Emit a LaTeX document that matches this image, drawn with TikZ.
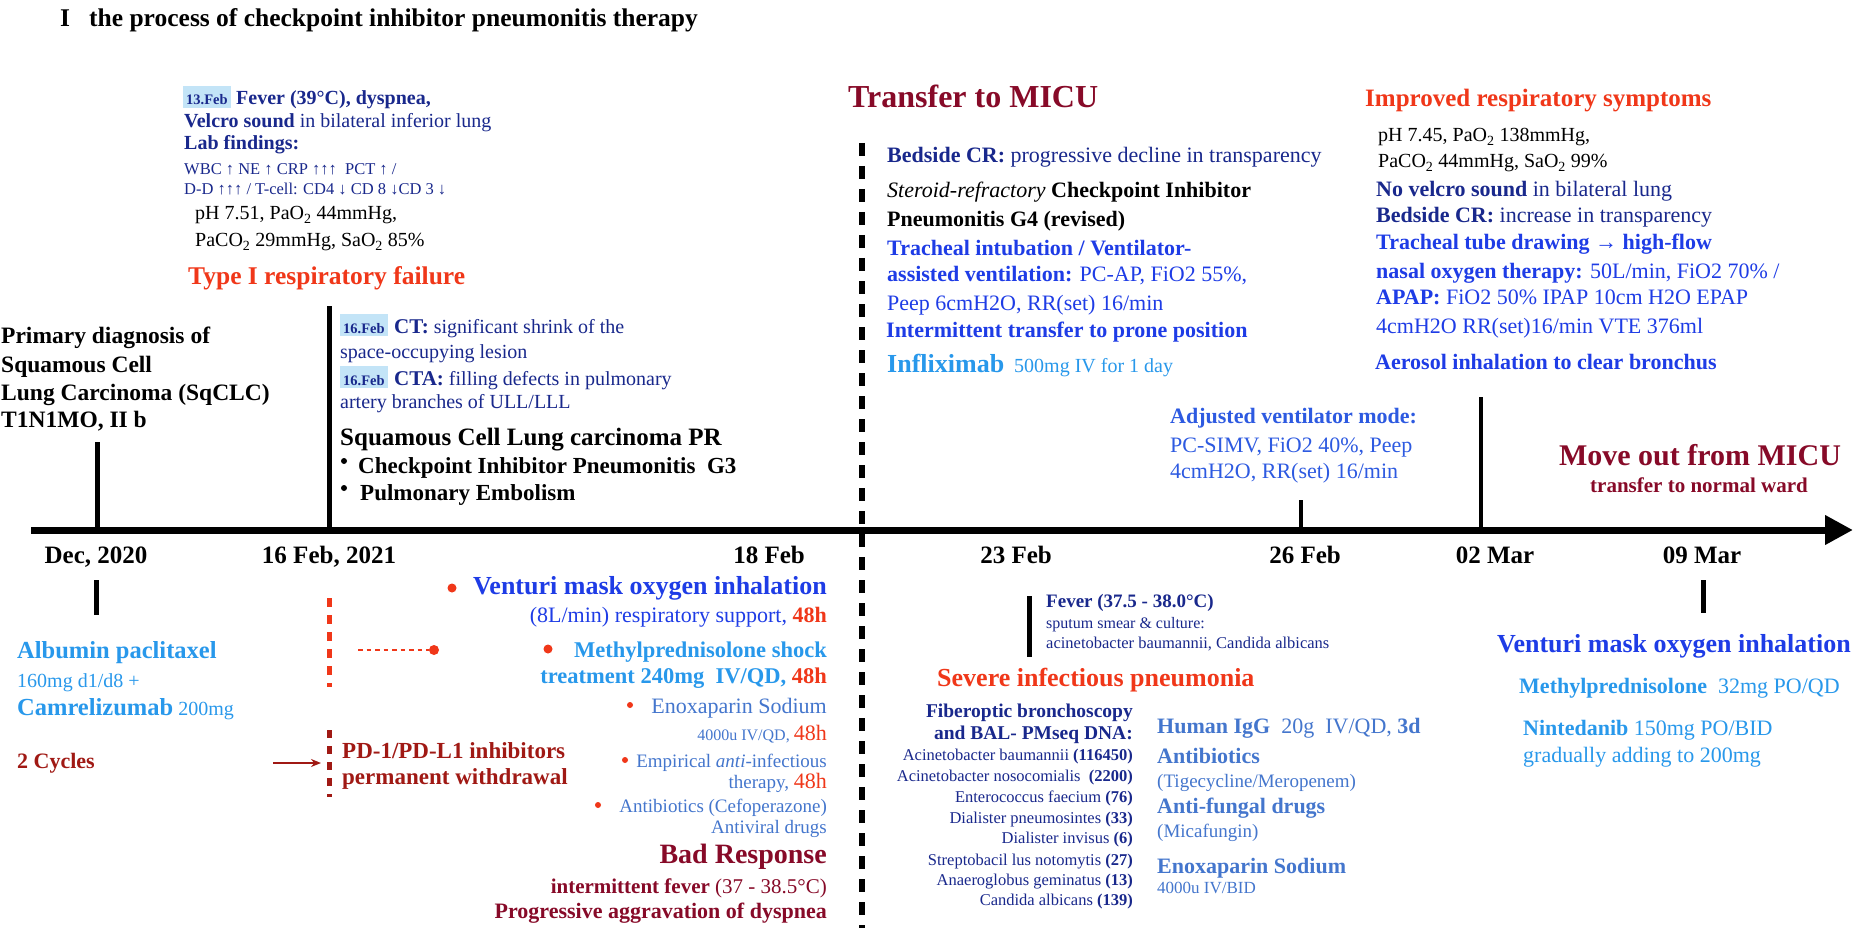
\documentclass[tikz,border=0pt]{standalone}
\usepackage{fontspec}
\setmainfont{Liberation Serif}
\usetikzlibrary{arrows.meta}
\newcommand\fs[1]{\fontsize{#1}{#1}\selectfont}
\definecolor{navy}{RGB}{25,40,140}
\definecolor{vblue}{RGB}{30,60,230}
\definecolor{lblue}{RGB}{40,152,235}
\definecolor{mblue}{RGB}{68,118,205}
\definecolor{ablue}{RGB}{45,90,225}
\definecolor{redo}{RGB}{240,55,25}
\definecolor{dred}{RGB}{135,10,40}
\definecolor{bred}{RGB}{160,25,20}
\definecolor{hl}{RGB}{195,228,247}
\tikzset{
  tx/.style={inner sep=0pt, anchor=base west},
  tr/.style={inner sep=0pt, anchor=base east},
  tc/.style={inner sep=0pt, anchor=base},
  hlbox/.style={fill=hl, inner xsep=3pt, inner ysep=0pt, anchor=base west, text height=19pt, text depth=3pt, font={\fs{14.5}\bfseries}, text=navy},
  datelab/.style={inner sep=0pt, anchor=base, font={\fs{25}\bfseries}},
  tickline/.style={line width=5pt},
  thintick/.style={line width=4pt},
  rdot/.style={circle, fill=redo, inner sep=0pt, minimum size=#1},
  kdot/.style={circle, fill=black, inner sep=0pt, minimum size=6pt},
}
\begin{document}
\begin{tikzpicture}[x=1pt,y=-1pt]
\fill[white] (0,0) rectangle (1856,928);
\useasboundingbox (0,0) rectangle (1856,928);

% ---------- title
\node[tx,font={\fs{25.5}\bfseries}] (tI) at (60,27) {I};
\node[tx,font={\fs{25.5}\bfseries}] (title) at (89,27) {the process of checkpoint inhibitor pneumonitis therapy};

% ---------- 13 Feb block
\node[hlbox] (d13) at (183,105) {13.Feb};
\node[tx,font={\fs{20}\bfseries},text=navy] (fev) at (236,105) {Fever (39°C), dyspnea,};
\node[tx,font={\fs{20}},text=navy] (velc) at (184,128) {\textbf{Velcro sound} in bilateral inferior lung};
\node[tx,font={\fs{20}\bfseries},text=navy] (lab) at (184,150) {Lab findings:};
\node[tx,font={\fs{16.5}},text=navy] (wbc) at (184,175) {WBC ↑ NE ↑ CRP ↑↑↑ \ PCT ↑ /};
\node[tx,font={\fs{16.5}},text=navy] (dd) at (184,195) {D-D ↑↑↑ / T-cell: CD4 ↓ CD 8 ↓CD 3 ↓};
\node[tx,font={\fs{20}}] (ph1) at (195,220) {pH 7.51, PaO\textsubscript{2} 44mmHg,};
\node[tx,font={\fs{20}}] (ph2) at (195,247) {PaCO\textsubscript{2} 29mmHg, SaO\textsubscript{2} 85\%};
\node[tx,font={\fs{25.5}\bfseries},text=redo] (t1f) at (188,284) {Type I respiratory failure};

% ---------- primary diagnosis
\node[tx,font={\fs{23.5}\bfseries}] (pd1) at (1,343) {Primary diagnosis of};
\node[tx,font={\fs{23.5}\bfseries}] (pd2) at (1,372) {Squamous Cell};
\node[tx,font={\fs{23.5}\bfseries}] (pd3) at (1,400) {Lung Carcinoma (SqCLC)};
\node[tx,font={\fs{23.5}\bfseries}] (pd4) at (1,427) {T1N1MO, II b};

% ---------- 16 Feb block
\node[hlbox] (d16a) at (340,333) {16.Feb};
\node[tx,font={\fs{20}},text=navy] (ct) at (394,333) {{\fs{21}\bfseries CT:} significant shrink of the};
\node[tx,font={\fs{20}},text=navy] (ct2) at (340,358) {space-occupying lesion};
\node[hlbox] (d16b) at (340,385) {16.Feb};
\node[tx,font={\fs{20}},text=navy] (cta) at (394,385) {{\fs{21}\bfseries CTA:} filling defects in pulmonary};
\node[tx,font={\fs{20}},text=navy] (cta2) at (340,408) {artery branches of ULL/LLL};
\node[tx,font={\fs{25}\bfseries}] (scl) at (340,445) {Squamous Cell Lung carcinoma PR};
\node[kdot] (b1) at (344,461) {};
\node[tx,font={\fs{23}\bfseries}] (cip) at (358,473) {Checkpoint Inhibitor Pneumonitis \ G3};
\node[kdot] (b2) at (344,488) {};
\node[tx,font={\fs{23}\bfseries}] (pe) at (360,500) {Pulmonary Embolism};

% ---------- Transfer to MICU
\node[tx,font={\fs{32}\bfseries},text=dred] (tmicu) at (848,108) {Transfer to MICU};
\coordinate (dA) at (862,143);
\coordinate (dB) at (862,928);
\draw[line width=6pt, dash pattern=on 13pt off 10pt] (dA) -- (dB);
\node[tx,font={\fs{22}},text=navy] (bcr) at (887,163) {\textbf{Bedside CR:} progressive decline in transparency};
\node[tx,font={\fs{22}}] (sr1) at (887,198) {\textit{Steroid-refractory} \textbf{Checkpoint Inhibitor}};
\node[tx,font={\fs{22}\bfseries}] (sr2) at (887,227) {Pneumonitis G4 (revised)};
\node[tx,font={\fs{22}\bfseries},text=vblue] (ti1) at (887,255) {Tracheal intubation / Ventilator-};
\node[tx,font={\fs{22}},text=vblue] (ti2) at (887,282) {\textbf{assisted ventilation:} PC-AP, FiO2 55\%,};
\node[tx,font={\fs{22}},text=vblue] (ti3) at (887,310) {Peep 6cmH2O, RR(set) 16/min};
\node[tx,font={\fs{22}\bfseries},text=vblue] (ti4) at (886,337) {Intermittent transfer to prone position};
\node[tx,font={\fs{20}},text=lblue] (inf) at (887,372) {{\fs{26}\bfseries Infliximab} \ 500mg IV for 1 day};

% ---------- Improved block
\node[tx,font={\fs{25}\bfseries},text=redo] (imp) at (1365,107) {Improved respiratory symptoms};
\node[tx,font={\fs{20}}] (ip1) at (1378,142) {pH 7.45, PaO\textsubscript{2} 138mmHg,};
\node[tx,font={\fs{20}}] (ip2) at (1378,168) {PaCO\textsubscript{2} 44mmHg, SaO\textsubscript{2} 99\%};
\node[tx,font={\fs{22}},text=navy] (nv) at (1376,197) {\textbf{No velcro sound} in bilateral lung};
\node[tx,font={\fs{22}},text=navy] (bcr2) at (1376,223) {\textbf{Bedside CR:} increase in transparency};
\node[tx,font={\fs{22}\bfseries},text=vblue] (tt1) at (1376,250) {Tracheal tube drawing → high-flow};
\node[tx,font={\fs{22}},text=vblue] (tt2) at (1376,278) {\textbf{nasal oxygen therapy:} 50L/min, FiO2 70\% /};
\node[tx,font={\fs{22}},text=vblue] (tt3) at (1376,305) {\textbf{APAP:} FiO2 50\% IPAP 10cm H2O EPAP};
\node[tx,font={\fs{22}},text=vblue] (tt4) at (1376,333) {4cmH2O RR(set)16/min VTE 376ml};
\node[tx,font={\fs{22}\bfseries},text=vblue] (aer) at (1375,369) {Aerosol inhalation to clear bronchus};

% ---------- Adjusted ventilator
\node[tx,font={\fs{22}\bfseries},text=ablue] (adj1) at (1170,423) {Adjusted ventilator mode:};
\node[tx,font={\fs{22}},text=ablue] (adj2) at (1170,452) {PC-SIMV, FiO2 40\%, Peep};
\node[tx,font={\fs{22}},text=ablue] (adj3) at (1170,478) {4cmH2O, RR(set) 16/min};

% ---------- Move out
\node[tc,font={\fs{30}\bfseries},text=dred] (mo) at (1700,465) {Move out from MICU};
\node[tc,font={\fs{21}\bfseries},text=dred] (mo2) at (1699,492) {transfer to normal ward};

% ---------- axis and ticks
\coordinate (axL) at (31,530);
\coordinate (axR) at (1853,530);
\draw[line width=7pt, -{Triangle[length=28pt,width=28pt]}] (axL) -- (axR);
\coordinate (tDecA) at (97,442);  \coordinate (tDecB) at (97,530);
\coordinate (tFebA) at (329,306); \coordinate (tFebB) at (329,530);
\coordinate (t26A) at (1301,500); \coordinate (t26B) at (1301,530);
\coordinate (t02A) at (1481,397); \coordinate (t02B) at (1481,530);
\draw[tickline] (tDecA) -- (tDecB);
\draw[tickline] (tFebA) -- (tFebB);
\draw[thintick] (t26A) -- (t26B);
\draw[thintick] (t02A) -- (t02B);

% ---------- dates
\node[datelab] (lDec) at (96,563) {Dec, 2020};
\node[datelab] (lFeb) at (329,563) {16 Feb, 2021};
\node[datelab,anchor=base east] (l18) at (805,563) {18 Feb};
\node[datelab] (l23) at (1016,563) {23 Feb};
\node[datelab] (l26) at (1305,563) {26 Feb};
\node[datelab] (l02) at (1495,563) {02 Mar};
\node[datelab] (l09) at (1702,563) {09 Mar};

% ---------- ticks below
\coordinate (bDecA) at (96,580); \coordinate (bDecB) at (96,615);
\coordinate (b09A) at (1703,580); \coordinate (b09B) at (1703,613);
\coordinate (b23A) at (1029,596); \coordinate (b23B) at (1029,657);
\draw[tickline] (bDecA) -- (bDecB);
\draw[tickline] (b09A) -- (b09B);
\draw[tickline] (b23A) -- (b23B);

% ---------- Dec 2020 treatment
\node[tx,font={\fs{24.5}\bfseries},text=lblue] (alb) at (17,658) {Albumin paclitaxel};
\node[tx,font={\fs{20}},text=lblue] (alb2) at (17,687) {160mg d1/d8 +};
\node[tx,font={\fs{20}},text=lblue] (cam) at (17,715) {{\fs{24.5}\bfseries Camrelizumab} 200mg};
\node[tx,font={\fs{22}\bfseries},text=bred] (cyc) at (17,768) {2 Cycles};
\coordinate (cyA) at (273,763);
\coordinate (cyB) at (321,763);
\draw[bred, line width=1.6pt, -{Stealth[length=10pt,width=8pt]}] (cyA) -- (cyB);

% ---------- red dashed markers
\coordinate (rdA) at (329,598); \coordinate (rdB) at (329,687);
\draw[redo, line width=5pt, dash pattern=on 9pt off 8pt] (rdA) -- (rdB);
\coordinate (rhA) at (358,650);
\node[rdot=10pt] (rhdot) at (434,650) {};
\draw[redo, line width=2.2pt, dash pattern=on 4.5pt off 4pt] (rhA) -- (rhdot);
\coordinate (pdA) at (329,730); \coordinate (pdB) at (329,797);
\draw[bred, line width=5pt, dash pattern=on 8pt off 8pt] (pdA) -- (pdB);
\node[tx,font={\fs{23}\bfseries},text=bred] (pd1x) at (342,758) {PD-1/PD-L1 inhibitors};
\node[tx,font={\fs{23}\bfseries},text=bred] (pd2x) at (342,784) {permanent withdrawal};

% ---------- 18 Feb treatment
\node[rdot=9pt] (bv) at (452,588) {};
\node[tr,font={\fs{26}\bfseries},text=vblue] (ven) at (827,594) {Venturi mask oxygen inhalation};
\node[tr,font={\fs{22}},text=vblue] (ven2) at (827,622) {(8L/min) respiratory support, \textcolor{redo}{\textbf{48h}}};
\node[rdot=9pt] (bm) at (548,649) {};
\node[tr,font={\fs{22.5}\bfseries},text=lblue] (mp1) at (827,657) {Methylprednisolone shock};
\node[tr,font={\fs{22.5}\bfseries},text=lblue] (mp2) at (827,683) {treatment 240mg \ IV/QD, \textcolor{redo}{48h}};
\node[rdot=6pt] (be) at (630,705) {};
\node[tr,font={\fs{22}},text=mblue] (en1) at (827,713) {Enoxaparin Sodium};
\node[tr,font={\fs{16}},text=mblue] (en2) at (827,740) {4000u IV/QD, \textcolor{redo}{\fs{22}48h}};
\node[rdot=6pt] (bemp) at (625,760) {};
\node[tr,font={\fs{19}},text=mblue] (em1) at (827,767) {Empirical \textit{anti}-infectious};
\node[tr,font={\fs{19}},text=mblue] (em2) at (827,788) {therapy, \textcolor{redo}{\fs{22}48h}};
\node[rdot=6pt] (bab) at (598,805) {};
\node[tr,font={\fs{19}},text=mblue] (ab1) at (827,812) {Antibiotics (Cefoperazone)};
\node[tr,font={\fs{19}},text=mblue] (ab2) at (827,833) {Antiviral drugs};
\node[tr,font={\fs{28}\bfseries},text=dred] (bad) at (827,863) {Bad Response};
\node[tr,font={\fs{21}},text=dred] (bad2) at (827,893) {\textbf{intermittent fever} (37 - 38.5°C)};
\node[tr,font={\fs{22}\bfseries},text=dred] (bad3) at (827,918) {Progressive aggravation of dyspnea};

% ---------- 23 Feb block
\node[tx,font={\fs{19}\bfseries},text=navy] (f23) at (1046,607) {Fever (37.5 - 38.0°C)};
\node[tx,font={\fs{16}},text=navy] (sp1) at (1046,628) {sputum smear \& culture:};
\node[tx,font={\fs{16.5}},text=navy] (sp2) at (1046,648) {acinetobacter baumannii, Candida albicans};
\node[tx,font={\fs{26}\bfseries},text=redo] (sip) at (937,686) {Severe infectious pneumonia};
\node[tr,font={\fs{19.5}\bfseries},text=navy] (fb1) at (1133,717) {Fiberoptic bronchoscopy};
\node[tr,font={\fs{19.5}\bfseries},text=navy] (fb2) at (1133,739) {and BAL- PMseq DNA:};
\node[tr,font={\fs{16.5}},text=navy] (m1) at (1133,760) {Acinetobacter baumannii \textbf{(116450)}};
\node[tr,font={\fs{16.5}},text=navy] (m2) at (1133,781) {Acinetobacter nosocomialis \ \textbf{(2200)}};
\node[tr,font={\fs{16.5}},text=navy] (m3) at (1133,802) {Enterococcus faecium \textbf{(76)}};
\node[tr,font={\fs{16.5}},text=navy] (m4) at (1133,823) {Dialister pneumosintes \textbf{(33)}};
\node[tr,font={\fs{16.5}},text=navy] (m5) at (1133,843) {Dialister invisus \textbf{(6)}};
\node[tr,font={\fs{16.5}},text=navy] (m6) at (1133,865) {Streptobacil lus notomytis \textbf{(27)}};
\node[tr,font={\fs{16.5}},text=navy] (m7) at (1133,885) {Anaeroglobus geminatus \textbf{(13)}};
\node[tr,font={\fs{16.5}},text=navy] (m8) at (1133,905) {Candida albicans \textbf{(139)}};

\node[tx,font={\fs{22}},text=mblue] (hig) at (1157,733) {\textbf{Human IgG} \ 20g \ IV/QD, \textbf{3d}};
\node[tx,font={\fs{22}\bfseries},text=mblue] (abx) at (1157,763) {Antibiotics};
\node[tx,font={\fs{19}},text=mblue] (abx2) at (1157,787) {(Tigecycline/Meropenem)};
\node[tx,font={\fs{22}\bfseries},text=mblue] (afd) at (1157,813) {Anti-fungal drugs};
\node[tx,font={\fs{19}},text=mblue] (afd2) at (1157,837) {(Micafungin)};
\node[tx,font={\fs{22}\bfseries},text=mblue] (eno) at (1157,873) {Enoxaparin Sodium};
\node[tx,font={\fs{17}},text=mblue] (eno2) at (1157,893) {4000u IV/BID};

% ---------- 09 Mar block
\node[tr,font={\fs{26}\bfseries},text=vblue] (ven9) at (1851,652) {Venturi mask oxygen inhalation};
\node[tx,font={\fs{22}},text=lblue] (mp9) at (1519,693) {\textbf{Methylprednisolone} \ 32mg PO/QD};
\node[tx,font={\fs{22}},text=lblue] (nin) at (1523,735) {\textbf{Nintedanib} 150mg PO/BID};
\node[tx,font={\fs{22}},text=lblue] (nin2) at (1523,762) {gradually adding to 200mg};
\end{tikzpicture}
\end{document}
